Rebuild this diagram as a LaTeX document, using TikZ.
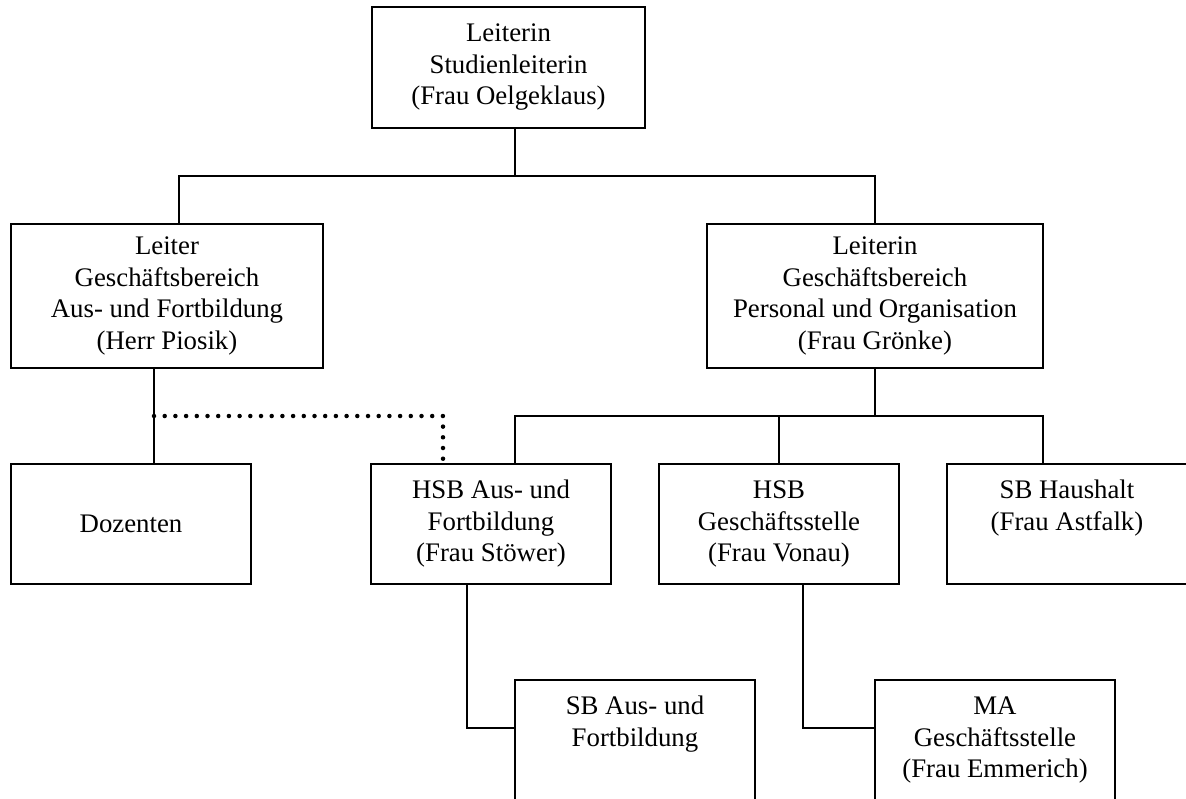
\documentclass[tikz,border=0pt]{standalone}
\usepackage{fontspec}
\setmainfont{Liberation Serif}
\usetikzlibrary{positioning}

\begin{document}
\begin{tikzpicture}[x=1pt,y=-1pt,unit/.style={draw,line width=2pt,align=center,inner sep=0pt,minimum width=240,minimum height=120},link/.style={line width=2pt},dots/.style={line width=4.5pt,line cap=round,dash pattern=on 0pt off 10.7pt},font=\fontsize{26.8}{31.5}\selectfont]
\useasboundingbox (0,0) rectangle (1186,798);
\node[unit,minimum width=273,minimum height=121](leitung) at (508.5,67.5){Leiterin\\Studienleiterin\\(Frau Oelgeklaus)};
\node[unit,minimum width=312,minimum height=144](gbaf) at (167,296){Leiter\\Geschäftsbereich\\Aus- und Fortbildung\\(Herr Piosik)};
\node[unit,minimum width=336,minimum height=144](gbpo) at (875,296){Leiterin\\Geschäftsbereich\\Personal und Organisation\\(Frau Grönke)};
\node[unit](dozenten) at (131,524){Dozenten};\node[unit](hsbaf) at (491,524){HSB Aus- und\\Fortbildung\\(Frau Stöwer)};
\node[unit](hsbgs) at (779,524){HSB\\Geschäftsstelle\\(Frau Vonau)};\node[unit](sbhh) at (1067,524){SB Haushalt\\(Frau Astfalk)\\\vphantom{()}};
\node[unit](sbaf) at (635,740){SB Aus- und\\Fortbildung\\\vphantom{()}};\node[unit](mags) at (995,740){MA\\Geschäftsstelle\\(Frau Emmerich)};
\coordinate (j1) at (515,176);\coordinate (j2) at (875,416);\coordinate (dz) at (154,416);
\draw[link]([xshift=6.5]leitung.south)--(j1);
\draw[link]([xshift=12]gbaf.north)|-(j1)-|(gbpo.north);
\draw[link]([xshift=-13]gbaf.south)--([xshift=-13]gbaf.south|-dozenten.north);
\draw[dots](dz)-|([xshift=-48]hsbaf.north);
\draw[link](gbpo.south)--(j2);
\draw[link]([xshift=24]hsbaf.north)|-(j2)-|([xshift=-24]sbhh.north);
\draw[link](hsbgs.north)--(hsbgs.north|-j2);
\draw[link]([xshift=-24]hsbaf.south)|-([yshift=12]sbaf.west);
\draw[link]([xshift=24]hsbgs.south)|-([yshift=12]mags.west);
\end{tikzpicture}
\end{document}
